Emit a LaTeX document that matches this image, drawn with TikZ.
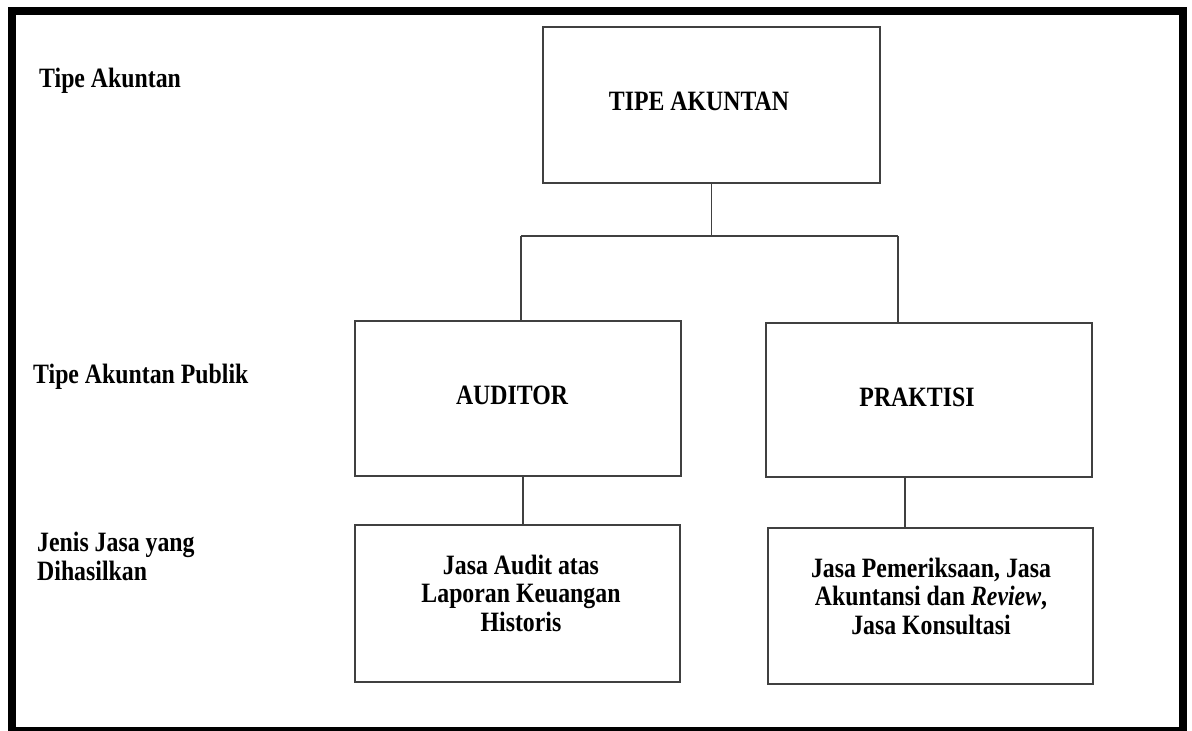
\documentclass[tikz,border=0pt]{standalone}
\usepackage{fontspec}
\setmainfont{Liberation Serif}[FakeStretch=0.85]
\begin{document}
\begin{tikzpicture}[x=1pt,y=-1pt,
  box/.style={draw=black!75, line width=1.6pt, rectangle, inner sep=0pt},
  lbl/.style={font=\fontsize{28}{28.5}\selectfont\bfseries, inner sep=0pt, text=black},
  conn/.style={draw=black!75, line width=1.6pt}]
\useasboundingbox (0,0) rectangle (1192,731);
\draw[line width=8pt] (12,11) rectangle (1182.5,731);
% boxes
\node[box, minimum width=337pt, minimum height=156pt] (top) at (711.5,105) {};
\node[box, minimum width=326pt, minimum height=155pt] (aud) at (518,398.5) {};
\node[box, minimum width=326pt, minimum height=154pt] (prak) at (929,400) {};
\node[box, minimum width=325pt, minimum height=157pt] (jaud) at (517.5,603.5) {};
\node[box, minimum width=325pt, minimum height=156pt] (jprak) at (930.5,606) {};
% box texts
\node[lbl, anchor=base] (ttop) at (699,110) {TIPE AKUNTAN};
\node[lbl, anchor=base] (taud) at (512,404) {AUDITOR};
\node[lbl, anchor=base] (tprak) at (917,406) {PRAKTISI};
\node[lbl, align=center] (tjaud) at (521,593) {Jasa Audit atas\\Laporan Keuangan\\Historis};
\node[lbl, align=center] (tjprak) at (931,596) {Jasa Pemeriksaan, Jasa\\Akuntansi dan \textit{Review},\\Jasa Konsultasi};
% left labels
\node[lbl, anchor=base west] (l1) at (39,87) {Tipe Akuntan};
\node[lbl, anchor=base west] (l2) at (33,383) {Tipe Akuntan Publik};
\node[lbl, anchor=north west, align=left] (l3) at (37,532) {Jenis Jasa yang\\Dihasilkan};
% connectors
\coordinate (bl) at (521,236);
\coordinate (br) at (898,236);
\draw[conn] (top.south) -- (top.south |- bl);
\draw[conn] (bl) -- (br);
\draw[conn] (bl) -- (bl |- aud.north);
\draw[conn] (br) -- (br |- prak.north);
\draw[conn] ([xshift=5pt]aud.south) -- ([xshift=5pt]aud.south |- jaud.north);
\draw[conn] ([xshift=-24pt]prak.south) -- ([xshift=-24pt]prak.south |- jprak.north);
\end{tikzpicture}
\end{document}
